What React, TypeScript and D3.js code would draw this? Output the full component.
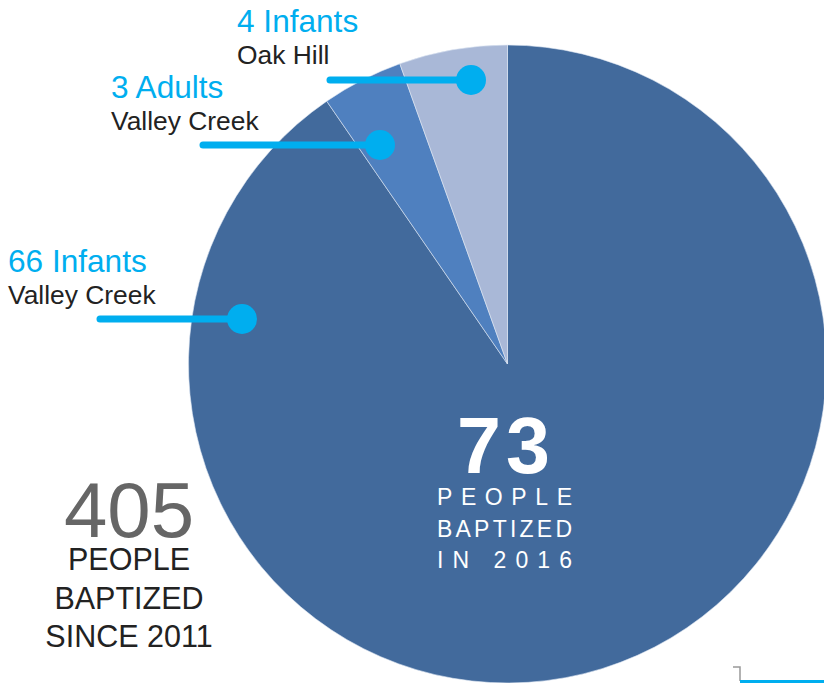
import React from "react";
import * as d3 from "d3";

// slices, clockwise from 12 o'clock
const sliceNames = ["66 Infants", "3 Adults", "4 Infants"];
const sliceValues = [66, 3, 4];
const sliceColors = ["#426a9c", "#4f80bf", "#a9b8d7"];

// callout labels (same order as slices)
const calloutTitles = ["66 Infants", "3 Adults", "4 Infants"];
const calloutPlaces = ["Valley Creek", "Valley Creek", "Oak Hill"];

const totalYear = "73";
const yearLines = ["PEOPLE", "BAPTIZED", "IN 2016"];
const totalAll = "405";
const allLines = ["PEOPLE", "BAPTIZED", "SINCE 2011"];

const W = 824;
const H = 683;
const cx = 507.5;
const cy = 364;
const R = 319;
const font = "Arial, 'Liberation Sans', Helvetica, sans-serif";
const cyan = "#00aeef";

// where each callout sits: text x, title baseline, dot center, line start
const callouts = [
  { tx: 8, ty: 272, dx: 242, dy: 319, lx: 100 },
  { tx: 111, ty: 98, dx: 380, dy: 145, lx: 203 },
  { tx: 237, ty: 32, dx: 471, dy: 80, lx: 330 },
];

const App = () => {
  const pie = d3.pie<number>().sort(null).value((d) => d)(sliceValues);
  const arc = d3.arc<d3.PieArcDatum<number>>().innerRadius(0).outerRadius(R);

  return (
    <svg width={W} height={H} style={{ position: "absolute", left: 0, top: 0 }}>
      <rect width={W} height={H} fill="#fff" />
      <g transform={`translate(${cx},${cy})`}>
        {pie.map((p, i) => (
          <path key={sliceNames[i]} d={arc(p) || ""} fill={sliceColors[i]} stroke="#dfe8f4" strokeWidth={0.6} />
        ))}
      </g>

      {callouts.map((c, i) => (
        <g key={i} fontFamily={font}>
          <text x={c.tx} y={c.ty} fontSize={31.6} fill={cyan}>
            {calloutTitles[i]}
          </text>
          <text x={c.tx} y={c.ty + 32} fontSize={26.4} fill="#222">
            {calloutPlaces[i]}
          </text>
          <line x1={c.lx} y1={c.dy} x2={c.dx} y2={c.dy} stroke={cyan} strokeWidth={7} strokeLinecap="round" />
          <circle cx={c.dx} cy={c.dy} r={15} fill={cyan} />
        </g>
      ))}

      {/* centre label */}
      <g fontFamily={font} fill="#fff">
        <text x={506} y={473} fontSize={79} fontWeight="bold" textAnchor="middle" letterSpacing={5}>
          {totalYear}
        </text>
        {yearLines.map((t, i) => (
          <text key={t} x={437} y={505 + i * 31.5} fontSize={23} textLength={135} lengthAdjust="spacing">
            {t}
          </text>
        ))}
      </g>

      {/* lifetime label */}
      <g fontFamily={font} textAnchor="middle">
        <text x={129} y={537} fontSize={78} fill="#666">
          {totalAll}
        </text>
        {allLines.map((t, i) => (
          <text key={t} x={129} y={570 + i * 38.5} fontSize={30.5} fill="#222">
            {t}
          </text>
        ))}
      </g>

      {/* corner marks */}
      <path d="M733,667 H740 V681" fill="none" stroke="#999" strokeWidth={1.5} />
      <line x1={740} y1={681.5} x2={W} y2={681.5} stroke={cyan} strokeWidth={3} />
    </svg>
  );
};

export default App;
